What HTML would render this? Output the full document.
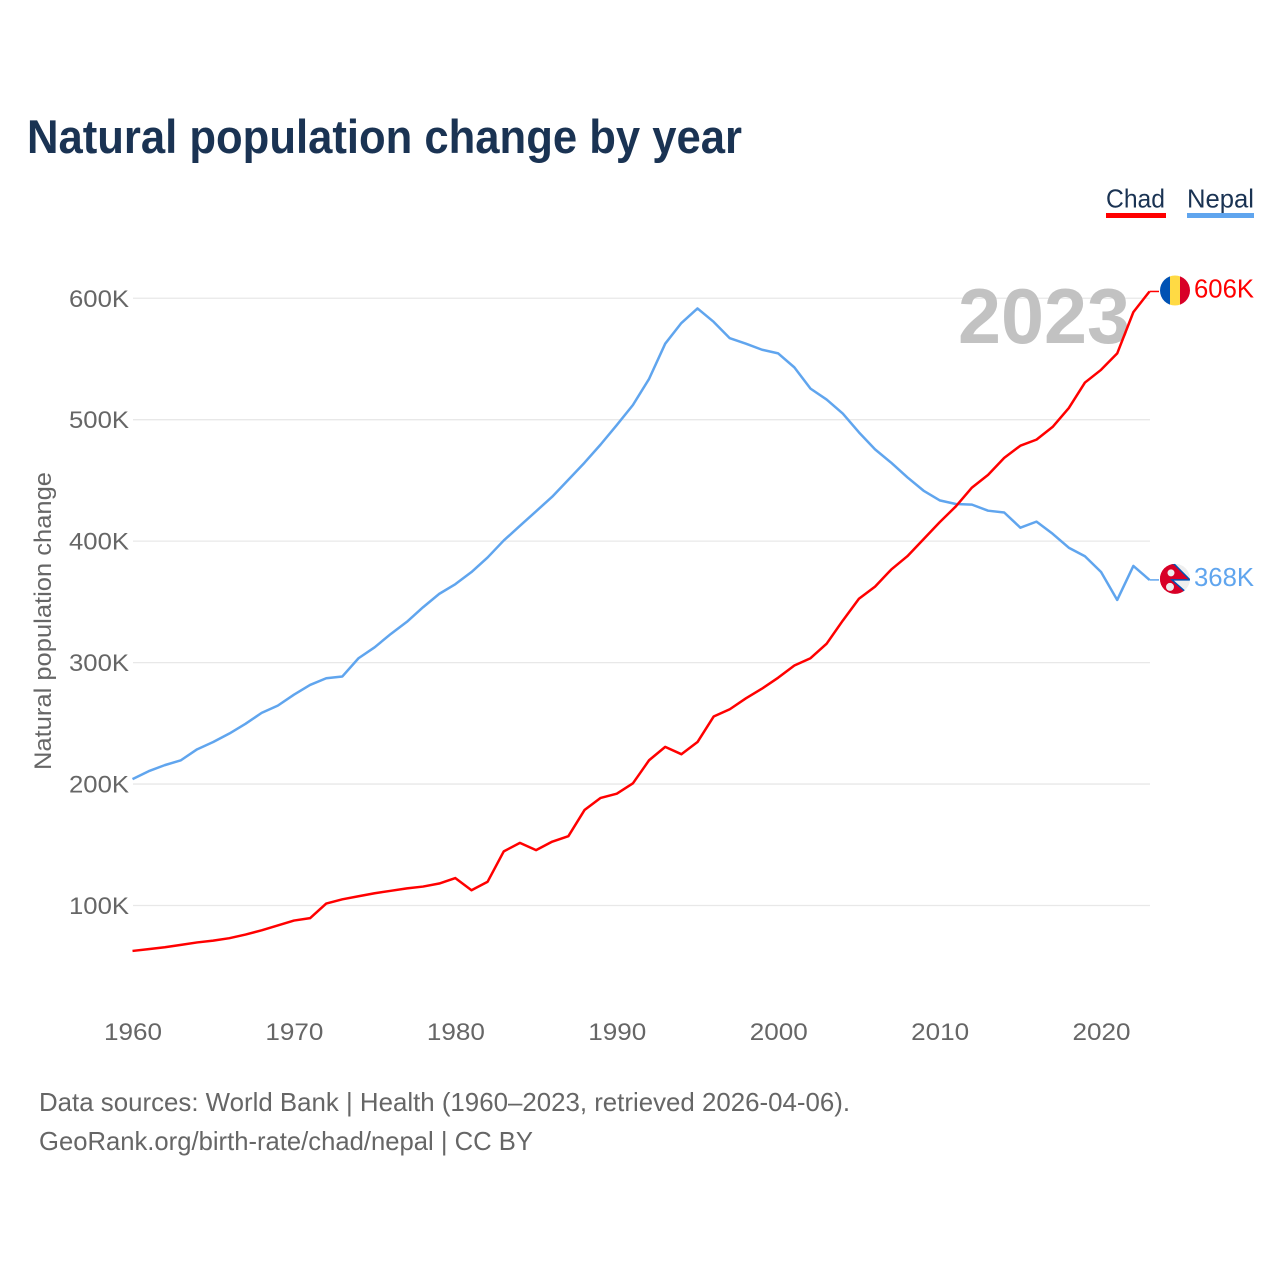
<!DOCTYPE html>
<html lang="en">
<head>
<meta charset="utf-8">
<title>Natural population change by year</title>
<style>
  html, body { margin: 0; padding: 0; background: #fff; }
  svg { display: block; font-family: "Liberation Sans", sans-serif; }
</style>
</head>
<body>
<svg id="chart" xmlns="http://www.w3.org/2000/svg" width="1280" height="1280" viewBox="0 0 1280 1280">
  <rect x="0" y="0" width="1280" height="1280" fill="#ffffff"/>
  <defs>
    <clipPath id="flag-clip"><circle cx="0" cy="0" r="15"/></clipPath>
  </defs>
  <text x="27" y="153" font-size="47" font-weight="700" fill="#1a3353" textLength="715" lengthAdjust="spacingAndGlyphs">Natural population change by year</text>

  <g>
    <text x="1106" y="207.5" font-size="26" fill="#1a3353" textLength="59" lengthAdjust="spacingAndGlyphs">Chad</text>
    <rect x="1106" y="213" width="60" height="5" fill="#ff0000"/>
  </g>
  <g>
    <text x="1187" y="207.5" font-size="26" fill="#1a3353" textLength="67" lengthAdjust="spacingAndGlyphs">Nepal</text>
    <rect x="1187" y="213" width="67" height="5" fill="#60a5ee"/>
  </g>

  <g id="grid"></g>
  <g id="y-axis"></g>
  <g id="x-axis"></g>

  <text x="1130" y="343" text-anchor="end" font-size="78" font-weight="700" fill="#c2c2c2" textLength="172" lengthAdjust="spacingAndGlyphs">2023</text>

  <text transform="translate(51,621) rotate(-90)" text-anchor="middle" font-size="24" fill="#666666" textLength="298" lengthAdjust="spacingAndGlyphs">Natural population change</text>

  <g id="series"></g>

  <g id="flag-chad">
    <g clip-path="url(#flag-clip)">
      <rect x="-15" y="-15" width="10" height="30" fill="#0052b4"/>
      <rect x="-5" y="-15" width="10" height="30" fill="#ffda44"/>
      <rect x="5" y="-15" width="10" height="30" fill="#d80027"/>
    </g>
  </g>
  <g id="flag-nepal">
    <g clip-path="url(#flag-clip)">
      <rect x="-15" y="-15" width="30" height="30" fill="#eeeeee"/>
      <polygon points="-16,-18 -1,-15 15,1 -3,1 14,16 -16,18" fill="#d80027" stroke="#0052b4" stroke-width="1.5"/>
      <rect x="-16" y="-15" width="6" height="30" fill="#d80027"/>
      <circle cx="-4" cy="-6" r="3.5" fill="#eeeeee"/>
      <circle cx="-5" cy="8" r="4" fill="#eeeeee"/>
    </g>
  </g>

  <text x="39" y="1111" font-size="26" fill="#666666" textLength="811" lengthAdjust="spacingAndGlyphs">Data sources: World Bank | Health (1960–2023, retrieved 2026-04-06).</text>
  <text x="39" y="1150" font-size="26" fill="#666666" textLength="494" lengthAdjust="spacingAndGlyphs">GeoRank.org/birth-rate/chad/nepal | CC BY</text>
</svg>
<script>
const startYear = 1960;
const yTickValues = [100, 200, 300, 400, 500, 600];
const yTickLabels = ['100K', '200K', '300K', '400K', '500K', '600K'];
const xTickYears = [1960, 1970, 1980, 1990, 2000, 2010, 2020];
const chadValues = [63, 64.5, 66, 68, 70, 71.5, 73.5, 76.5, 80, 84, 88, 90, 102, 105.5, 108, 110.5, 112.5, 114.5, 116, 118.5, 123, 113, 120, 145, 152, 146, 153, 157.5, 179, 189, 192.5, 201, 220, 231, 225, 235, 256, 262, 271, 279, 288, 298, 304, 316, 335, 353, 363, 377, 388, 402, 416, 429, 444.5, 455, 469, 479, 484, 494.5, 510, 531, 541.5, 555, 589, 606];
const nepalValues = [204.5, 211, 216, 220, 229, 235, 242, 250, 259, 265, 274, 282, 287.5, 289, 304, 313, 324, 334, 346, 357, 365, 375, 387, 401, 413, 425, 437, 451, 465, 480, 496, 512.5, 534, 563, 580, 592, 581, 567.5, 563, 558, 555, 543.5, 526, 517, 505.5, 490, 476, 465, 453, 442, 434, 431, 430.5, 425.5, 424, 411.5, 416.5, 406.5, 395, 388, 375, 352, 380, 368.5];
const chadEndLabel = '606K';
const nepalEndLabel = '368K';

const NS = 'http://www.w3.org/2000/svg';
const xScale = (year) => 132.5 + (year - startYear) * (1149.5 - 132.5) / 63;
const yScale = (value) => 905.5 - (value - 100) * 1.2145;
const lineOffset = 0.5;

function make(tag, attrs, text) {
  const el = document.createElementNS(NS, tag);
  for (const key in attrs) el.setAttribute(key, attrs[key]);
  if (text !== undefined) el.textContent = text;
  return el;
}

const grid = document.getElementById('grid');
const yAxis = document.getElementById('y-axis');
yTickValues.forEach((v, i) => {
  const line = make('line', { x1: 133, x2: 1150, y1: yScale(v), y2: yScale(v), stroke: '#e8e8e8', 'stroke-width': 1.3 });
  
  
  grid.appendChild(line);
  const label = make('text', { x: 129, y: yScale(v) + 8.5, 'text-anchor': 'end', 'font-size': 24, fill: '#666666', textLength: 60, lengthAdjust: 'spacingAndGlyphs' }, yTickLabels[i]);
  
  
  yAxis.appendChild(label);
});

const xAxis = document.getElementById('x-axis');
xTickYears.forEach((year) => {
  const label = make('text', { x: xScale(year) + 0.5, y: 1040, 'text-anchor': 'middle', 'font-size': 24, fill: '#666666', textLength: 58, lengthAdjust: 'spacingAndGlyphs' }, String(year));
  
  
  xAxis.appendChild(label);
});

const series = document.getElementById('series');
function drawSeries(values, color, key, endLabel, flagId) {
  const pts = values.map((v, i) => xScale(startYear + i).toFixed(2) + ',' + (yScale(v) + lineOffset).toFixed(2)).join(' ');
  const line = make('polyline', { points: pts, fill: 'none', stroke: color, 'stroke-width': 2.5, 'stroke-linejoin': 'round' });
  
  
  series.appendChild(line);
  const endValue = values[values.length - 1];
  const endY = yScale(endValue);
  const connector = make('line', { x1: 1149.5, x2: 1159, y1: endY + lineOffset, y2: endY + lineOffset, stroke: color, 'stroke-width': 1.5 });
  
  
  series.appendChild(connector);
  document.getElementById(flagId).setAttribute('transform', 'translate(1175,' + (endY - 0.5) + ')');
  const label = make('text', { x: 1194, y: endY + 6.5, 'font-size': 26, fill: color, textLength: 60, lengthAdjust: 'spacingAndGlyphs' }, endLabel);
  
  
  series.appendChild(label);
}
drawSeries(nepalValues, '#60a5ee', 'nepal', nepalEndLabel, 'flag-nepal');
drawSeries(chadValues, '#ff0000', 'chad', chadEndLabel, 'flag-chad');
</script>
</body>
</html>
